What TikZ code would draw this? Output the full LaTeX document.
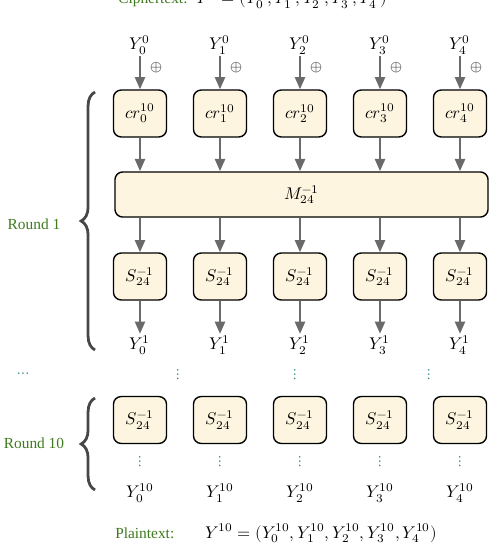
\documentclass[tikz,border=0pt]{standalone}
\usepackage{fontspec}
\usepackage{unicode-math}
\setmainfont{Liberation Serif}
\setmathfont{Latin Modern Math}
\usetikzlibrary{arrows.meta,decorations.pathreplacing}
\definecolor{boxfill}{HTML}{FDF5DF}
\definecolor{arrowgray}{HTML}{6A6A6A}
\definecolor{bracegray}{HTML}{474747}
\definecolor{labelgreen}{HTML}{3E7A1E}
\definecolor{dotteal}{HTML}{2A8A80}
\begin{document}
\begin{tikzpicture}[x=0.65pt,y=-0.65pt,
  mfont/.style={font=\fontsize{11}{13}\selectfont},
  opbox/.style={draw=black,line width=0.9pt,fill=boxfill,rounded corners=5pt,
    minimum width=34.5pt,minimum height=30.5pt,inner sep=0pt,mfont},
  flow/.style={draw=arrowgray,line width=1.6pt,-{Triangle[width=6.5pt,length=8pt]}},
  rbrace/.style={draw=bracegray,line width=1.8pt,decorate,
    decoration={brace,amplitude=9pt,raise=0pt}},
  grn/.style={text=labelgreen,inner sep=0pt},
  tdots/.style={text=dotteal,inner sep=0pt},
  vlabel/.style={inner sep=1pt,mfont}]
\useasboundingbox (0,0) rectangle (490,546);

% ciphertext line (cut at top)
\node[grn,anchor=base west] (ct) at (118,4) {Ciphertext:};
\node[inner sep=0pt,anchor=base west,mfont] (ctf) at (196,4) {$Y^0=(Y^0_0,Y^0_1,Y^0_2,Y^0_3,Y^0_4)$};

% M box
\node[opbox,minimum width=242.5pt,minimum height=29.3pt] (M) at (301.5,194.5) {$M_{24}^{-1}$};

\foreach \i in {0,...,4}{
  \pgfmathsetmacro{\xx}{140+80*\i}
  \node[vlabel] (y0\i) at (\xx,45) {$Y^0_{\i}$};
  \node[opbox] (cr\i) at (\xx,113.5) {$cr^{10}_{\i}$};
  \node[opbox] (sa\i) at (\xx,276.5) {$S_{24}^{-1}$};
  \node[vlabel] (y1\i) at (\xx,345) {$Y^1_{\i}$};
  \node[opbox] (sb\i) at (\xx,420) {$S_{24}^{-1}$};
  \node[tdots] (vd\i) at (\xx,462) {$\vdots$};
  \node[vlabel] (y10\i) at (\xx,493) {$Y^{10}_{\i}$};
  \node[text=arrowgray!80!black,inner sep=0pt] (xo\i) at (\xx+16,68) {$\oplus$};
  \draw[flow] (y0\i.south) -- (cr\i.north);
  \draw[flow] (cr\i.south) -- (cr\i.south |- M.north);
  \draw[flow] (sa\i.north |- M.south) -- (sa\i.north);
  \draw[flow] (sa\i.south) -- (y1\i.north);
}

% dots between rounds
\node[tdots] (md1) at (178,375) {$\vdots$};
\node[tdots] (md2) at (295,375) {$\vdots$};
\node[tdots] (md3) at (429,375) {$\vdots$};
\node[tdots] (hd) at (23,375) {$\cdots$};

% braces
\coordinate (b1s) at (95,350);
\coordinate (b1e) at (95,92);
\draw[rbrace] (b1s) -- (b1e);
\node[grn] (r1) at (34,224) {Round 1};
\coordinate (b2s) at (95,490);
\coordinate (b2e) at (95,398);
\draw[rbrace] (b2s) -- (b2e);
\node[grn] (r10) at (34,443) {Round 10};

% plaintext line
\node[grn,anchor=base west] (pt) at (115,538) {Plaintext:};
\node[inner sep=0pt,anchor=base west,mfont] (ptf) at (205,538) {$Y^{10}=(Y^{10}_0,Y^{10}_1,Y^{10}_2,Y^{10}_3,Y^{10}_4)$};
\end{tikzpicture}
\end{document}
